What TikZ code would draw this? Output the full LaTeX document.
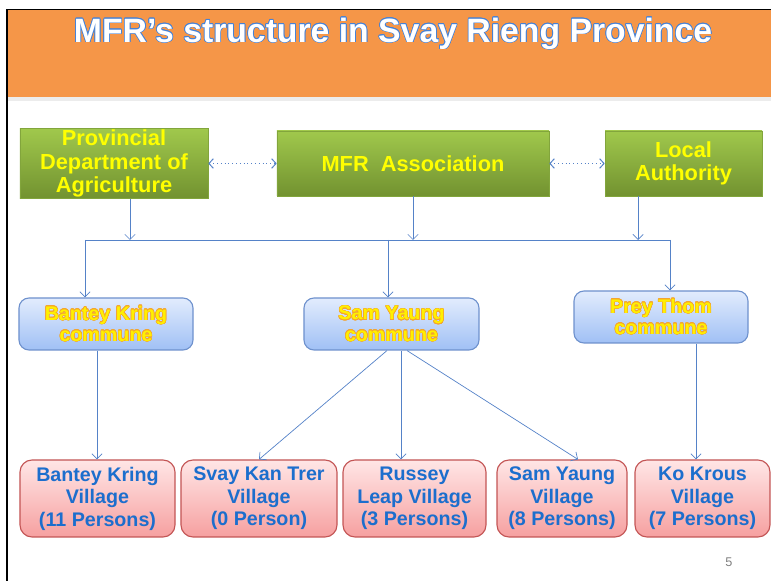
\documentclass[tikz,border=0pt]{standalone}
\usepackage{fontspec}
\setmainfont{Liberation Sans}
\usepackage[copies]{contour}
\usetikzlibrary{arrows.meta}
\definecolor{mfrorange}{RGB}{245,150,72}
\definecolor{mfrstrip}{RGB}{236,236,236}
\definecolor{titleedge}{RGB}{70,130,215}
\definecolor{greentop}{RGB}{160,200,76}
\definecolor{greenbot}{RGB}{114,146,48}
\definecolor{greenedge}{RGB}{130,165,60}
\definecolor{agencytext}{RGB}{255,255,0}
\definecolor{commtop}{RGB}{226,236,253}
\definecolor{commbot}{RGB}{160,192,245}
\definecolor{commedge}{RGB}{110,145,205}
\definecolor{commtext}{RGB}{255,240,0}
\definecolor{commglow}{RGB}{245,165,45}
\definecolor{vilTop}{RGB}{255,230,230}
\definecolor{vilBot}{RGB}{246,160,160}
\definecolor{vilEdge}{RGB}{195,85,85}
\definecolor{viltext}{RGB}{28,110,205}
\definecolor{mfrline}{RGB}{85,130,200}
\tikzset{
  agencybox/.style={rectangle,draw=greenedge,top color=greentop,bottom color=greenbot,
    text=agencytext,align=center,inner sep=1pt,font=\bfseries\fontsize{15.5}{16.5}\selectfont},
  communebox/.style={rectangle,rounded corners=2.5mm,draw=commedge,thick,top color=commtop,
    bottom color=commbot,text=commtext,align=center,inner sep=1pt,
    font=\bfseries\fontsize{14}{15}\selectfont},
  villagebox/.style={rectangle,rounded corners=3mm,draw=vilEdge,thick,top color=vilTop,
    bottom color=vilBot,text=viltext,align=center,inner sep=1pt,minimum height=19.25mm,
    font=\bfseries\fontsize{14}{16}\selectfont},
  linkarrow/.style={-{Straight Barb[length=1.3mm,width=2.6mm]},draw=mfrline,line width=0.5pt},
  duallink/.style={{Straight Barb[length=1.1mm,width=2.4mm]}-{Straight Barb[length=1.1mm,width=2.4mm]},
    dotted,draw=mfrline,line width=0.7pt}
}
\contourlength{0.35pt}
\contournumber{16}
\newcommand{\commtxt}[1]{\contour{commglow}{#1}}

\begin{document}
\begin{tikzpicture}[x=0.25mm,y=-0.25mm]
  \useasboundingbox (0,0) rectangle (771,581);
  % slide frame and title band
  \fill[mfrorange] (7,10) rectangle (771,97);
  \fill[mfrstrip] (7,97) rectangle (771,101);
  \draw[black,line width=1.2pt] (7,581) -- (7,9.5) -- (771,9.5);
  \node[text=white,font=\bfseries\fontsize{24}{26}\selectfont] (title) at (393,34)
    {\contourlength{0.5pt}\contour{titleedge}{MFR’s structure in Svay Rieng Province}};

  % top level
  \node[agencybox,minimum width=47mm,minimum height=16.25mm] (pda) at (114,163.5)
    {Provincial\\Department of\\Agriculture};
  \node[agencybox,minimum width=68mm,minimum height=16.25mm] (mfr) at (413,163.5)
    {MFR\ \ Association};
  \node[agencybox,minimum width=39.25mm,minimum height=16.25mm] (la) at (683.5,163.5)
    {Local\\Authority};
  \draw[duallink] (pda.east) -- (mfr.west);
  \draw[duallink] (mfr.east) -- (la.west);

  % communes
  \node[communebox,minimum width=43.5mm,minimum height=13mm] (bkc) at (106,324)
    {\commtxt{Bantey Kring}\\\commtxt{commune}};
  \node[communebox,minimum width=43.75mm,minimum height=13mm] (syc) at (391.5,324)
    {\commtxt{Sam Yaung}\\\commtxt{commune}};
  \node[communebox,minimum width=43.5mm,minimum height=13mm] (ptc) at (661,317)
    {\commtxt{Prey Thom}\\\commtxt{commune}};

  % villages
  \node[villagebox,minimum width=38.75mm] (bkv) at (97.5,498.5)
    {Bantey Kring\\Village\\(11 Persons)};
  \node[villagebox,minimum width=39mm] (skt) at (259,498.5)
    {Svay Kan Trer\\Village\\(0 Person)};
  \node[villagebox,minimum width=35.75mm] (rlv) at (414.5,498.5)
    {Russey\\Leap Village\\(3 Persons)};
  \node[villagebox,minimum width=32.5mm] (syv) at (562,498.5)
    {Sam Yaung\\Village\\(8 Persons)};
  \node[villagebox,minimum width=33.75mm] (kkv) at (702.5,498.5)
    {Ko Krous\\Village\\(7 Persons)};

  % bus between the two levels
  \coordinate (busL) at (85,240);
  \coordinate (busM) at (388,240);
  \coordinate (busR) at (670,240);
  \coordinate (pdaIn) at (130,240);
  \coordinate (mfrIn) at (413,240);
  \coordinate (laIn) at (638,240);
  \draw[mfrline,line width=0.6pt] (busL) -- (busR);
  \draw[linkarrow] (pdaIn |- pda.south) -- (pdaIn);
  \draw[linkarrow] (mfrIn |- mfr.south) -- (mfrIn);
  \draw[linkarrow] (laIn |- la.south) -- (laIn);
  \draw[linkarrow] (busL) -- (busL |- bkc.north);
  \draw[linkarrow] (busM) -- (busM |- syc.north);
  \draw[linkarrow] (busR) -- (busR |- ptc.north);

  % communes to villages
  \draw[linkarrow] (97,0 |- bkc.south) -- (97,0 |- bkv.north);
  \draw[linkarrow] (387,0 |- syc.south) -- (skt.north);
  \draw[linkarrow] (401,0 |- syc.south) -- (401,0 |- rlv.north);
  \draw[linkarrow] (407,0 |- syc.south) -- (578,0 |- syv.north);
  \draw[linkarrow] (696,0 |- ptc.south) -- (696,0 |- kkv.north);

  \node[text=gray,font=\fontsize{9}{10}\selectfont] (pagenum) at (729,562) {5};
\end{tikzpicture}
\end{document}
